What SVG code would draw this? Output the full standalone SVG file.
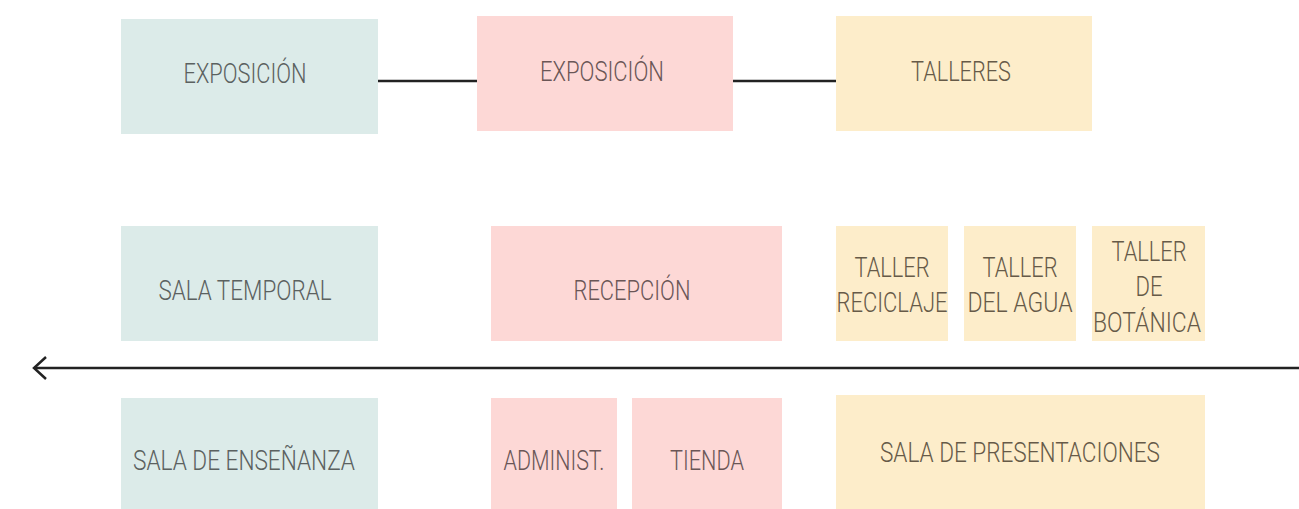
<svg xmlns="http://www.w3.org/2000/svg" width="1299" height="509" viewBox="0 0 1299 509">
<defs>
<style>
.t{fill:#dcebe9}.p{fill:#fdd8d6}.y{fill:#fdedca}
text{font-family:Roboto,"Liberation Sans",sans-serif;font-weight:300;font-size:27px;text-anchor:middle}
.tt{fill:#5b6160}.pt{fill:#6a5656}.yt{fill:#665a48}
.c{stroke:#222;stroke-width:2.5;fill:none}
</style>
<marker id="ah" viewBox="0 0 20 30" refX="17" refY="15" markerWidth="20" markerHeight="30" markerUnits="userSpaceOnUse" orient="auto">
<path d="M5,4 L17,15 L5,26" fill="none" stroke="#222" stroke-width="2.5"/>
</marker>
</defs>
<rect width="1299" height="509" fill="#fff"/>
<g id="connectors">
<line class="c" x1="378" y1="81" x2="477" y2="81"/>
<line class="c" x1="733" y1="81" x2="836" y2="81"/>
<line class="c" x1="1299" y1="368" x2="34" y2="368" marker-end="url(#ah)"/>
</g>
<g id="n1"><rect class="t" x="121" y="19" width="257" height="115"/><text class="tt" x="245" y="83" textLength="123" lengthAdjust="spacingAndGlyphs">EXPOSICIÓN</text></g>
<g id="n2"><rect class="p" x="477" y="16" width="256" height="115"/><text class="pt" x="602" y="81" textLength="124" lengthAdjust="spacingAndGlyphs">EXPOSICIÓN</text></g>
<g id="n3"><rect class="y" x="836" y="16" width="256" height="115"/><text class="yt" x="961" y="81" textLength="100" lengthAdjust="spacingAndGlyphs">TALLERES</text></g>
<g id="n4"><rect class="t" x="121" y="226" width="257" height="115"/><text class="tt" x="245" y="300" textLength="173" lengthAdjust="spacingAndGlyphs">SALA TEMPORAL</text></g>
<g id="n5"><rect class="p" x="491" y="226" width="291" height="115"/><text class="pt" x="632" y="300" textLength="117" lengthAdjust="spacingAndGlyphs">RECEPCIÓN</text></g>
<g id="n6"><rect class="y" x="836" y="226" width="112" height="115"/><text class="yt" x="892" y="277" textLength="75" lengthAdjust="spacingAndGlyphs">TALLER</text><text class="yt" x="892" y="312" textLength="111" lengthAdjust="spacingAndGlyphs">RECICLAJE</text></g>
<g id="n7"><rect class="y" x="964" y="226" width="112" height="115"/><text class="yt" x="1020" y="277" textLength="75" lengthAdjust="spacingAndGlyphs">TALLER</text><text class="yt" x="1020" y="312" textLength="105" lengthAdjust="spacingAndGlyphs">DEL AGUA</text></g>
<g id="n8"><rect class="y" x="1092" y="226" width="113" height="115"/><text class="yt" x="1149" y="261" textLength="75" lengthAdjust="spacingAndGlyphs">TALLER</text><text class="yt" x="1149" y="296" textLength="27" lengthAdjust="spacingAndGlyphs">DE</text><text class="yt" x="1147" y="332" textLength="108" lengthAdjust="spacingAndGlyphs">BOTÁNICA</text></g>
<g id="n9"><rect class="t" x="121" y="398" width="257" height="111"/><text class="tt" x="244" y="470" textLength="222" lengthAdjust="spacingAndGlyphs">SALA DE ENSEÑANZA</text></g>
<g id="n10"><rect class="p" x="491" y="398" width="126" height="111"/><text class="pt" x="554" y="470" textLength="101" lengthAdjust="spacingAndGlyphs">ADMINIST.</text></g>
<g id="n11"><rect class="p" x="632" y="398" width="150" height="111"/><text class="pt" x="707" y="470" textLength="74" lengthAdjust="spacingAndGlyphs">TIENDA</text></g>
<g id="n12"><rect class="y" x="836" y="395" width="369" height="114"/><text class="yt" x="1020" y="462" textLength="280" lengthAdjust="spacingAndGlyphs">SALA DE PRESENTACIONES</text></g>
</svg>
